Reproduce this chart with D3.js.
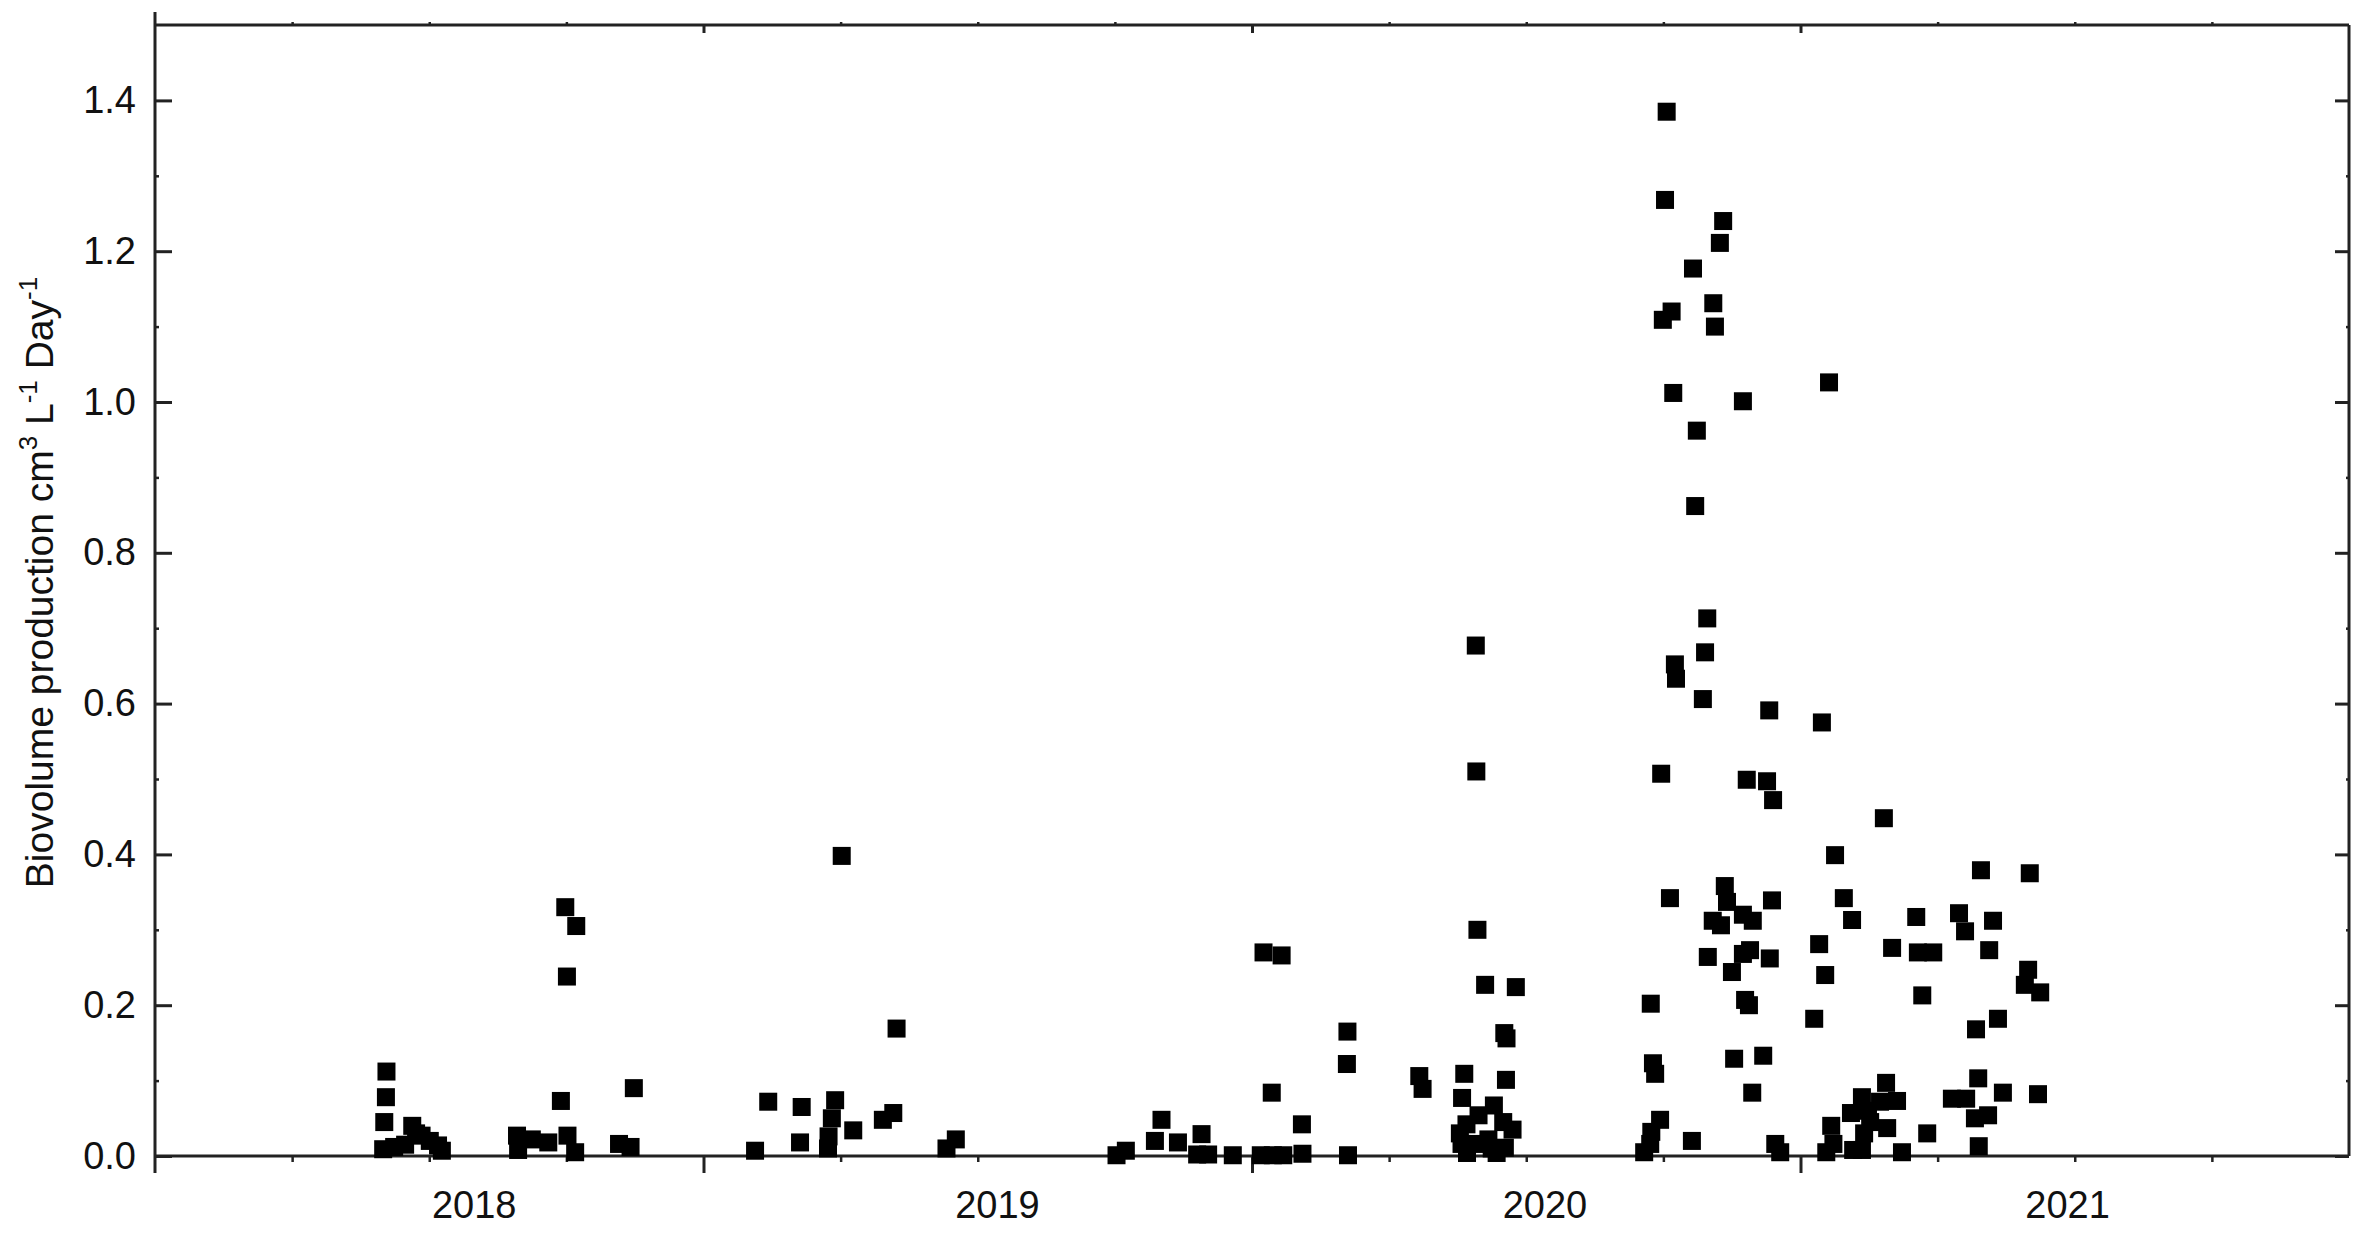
<!DOCTYPE html>
<html>
<head>
<meta charset="utf-8">
<script src="https://d3js.org/d3.v7.min.js"></script>
<style>
  body { margin: 0; background: #fff; }
  text { font-family: "Liberation Sans", Arial, sans-serif; fill: #111; }
</style>
</head>
<body>
<svg id="chart" width="2370" height="1236"></svg>

<script>
  // sampling time as decimal year, and biovolume production (cm3 L-1 Day-1)
  var sampleYear = [
    2018.416, 2018.418, 2018.421, 2018.422, 2018.436, 2018.456, 2018.469, 2018.476, 2018.486, 2018.501, 2018.516, 2018.523,
    2018.660, 2018.662, 2018.687, 2018.717, 2018.740, 2018.748, 2018.751, 2018.752, 2018.766, 2018.768, 2018.846, 2018.867, 2018.873,
    2019.094, 2019.118, 2019.176, 2019.179, 2019.227, 2019.228, 2019.234, 2019.240, 2019.252, 2019.273, 2019.327, 2019.346, 2019.352, 2019.443, 2019.460,
    2019.753, 2019.770, 2019.823, 2019.835, 2019.865, 2019.900, 2019.908, 2019.920, 2019.965,
    2020.016, 2020.021, 2020.036, 2020.038, 2020.054, 2020.057, 2020.091, 2020.092, 2020.173, 2020.174, 2020.175,
    2020.305, 2020.311, 2020.379, 2020.382, 2020.383, 2020.387, 2020.391, 2020.392, 2020.408, 2020.409, 2020.410, 2020.411,
    2020.413, 2020.425, 2020.431, 2020.437, 2020.441, 2020.446, 2020.458, 2020.460, 2020.461, 2020.463, 2020.464, 2020.475, 2020.481,
    2020.715, 2020.726, 2020.727, 2020.728, 2020.731, 2020.735, 2020.744, 2020.746, 2020.749, 2020.753, 2020.756, 2020.762,
    2020.765, 2020.768, 2020.771, 2020.773, 2020.802, 2020.804, 2020.808, 2020.811, 2020.822, 2020.826, 2020.830, 2020.831,
    2020.840, 2020.841, 2020.844, 2020.853, 2020.855, 2020.859, 2020.862, 2020.866, 2020.875, 2020.879, 2020.895, 2020.895,
    2020.895, 2020.899, 2020.902, 2020.906, 2020.908, 2020.912, 2020.913, 2020.932, 2020.939, 2020.943, 2020.944, 2020.948,
    2020.950, 2020.954, 2020.963,
    2021.025, 2021.034, 2021.039, 2021.045, 2021.047, 2021.052, 2021.056, 2021.060, 2021.063, 2021.079, 2021.092, 2021.094,
    2021.096, 2021.112, 2021.112, 2021.116, 2021.123, 2021.127, 2021.145, 2021.152, 2021.156, 2021.158, 2021.167, 2021.176,
    2021.185, 2021.211, 2021.214, 2021.222, 2021.231, 2021.242, 2021.276, 2021.289, 2021.300, 2021.302, 2021.318, 2021.320,
    2021.324, 2021.325, 2021.329, 2021.342, 2021.344, 2021.351, 2021.360, 2021.369, 2021.409, 2021.415, 2021.418, 2021.433, 2021.437
  ];
  var biovolume = [
    0.009, 0.045, 0.078, 0.112, 0.012, 0.015, 0.040, 0.030, 0.027, 0.020, 0.014, 0.007,
    0.027, 0.008, 0.022, 0.018, 0.073, 0.330, 0.238, 0.027, 0.005, 0.305, 0.016, 0.012, 0.090,
    0.007, 0.072, 0.018, 0.065, 0.010, 0.026, 0.050, 0.074, 0.398, 0.034, 0.048, 0.057, 0.169, 0.010, 0.022,
    0.001, 0.007, 0.020, 0.048, 0.018, 0.002, 0.029, 0.002, 0.001,
    0.001, 0.270, 0.084, 0.001, 0.266, 0.001, 0.042, 0.003, 0.122, 0.165, 0.001,
    0.106, 0.089, 0.030, 0.016, 0.077, 0.109, 0.042, 0.004, 0.677, 0.510, 0.016, 0.300,
    0.054, 0.227, 0.022, 0.010, 0.067, 0.004, 0.045, 0.163, 0.011, 0.101, 0.156, 0.035, 0.224,
    0.005, 0.016, 0.202, 0.032, 0.123, 0.109, 0.048, 0.507, 1.109, 1.268, 1.385, 0.342,
    1.120, 1.012, 0.652, 0.633, 0.020, 1.177, 0.862, 0.962, 0.606, 0.668, 0.713, 0.264,
    0.312, 1.131, 1.100, 1.211, 0.306, 1.240, 0.358, 0.337, 0.244, 0.129, 0.320, 0.268,
    1.001, 0.207, 0.499, 0.200, 0.273, 0.084, 0.312, 0.133, 0.497, 0.591, 0.262, 0.339,
    0.472, 0.016, 0.005,
    0.182, 0.281, 0.575, 0.240, 0.005, 1.026, 0.040, 0.016, 0.399, 0.342, 0.057, 0.313,
    0.008, 0.078, 0.008, 0.030, 0.060, 0.045, 0.072, 0.448, 0.097, 0.037, 0.276, 0.073,
    0.005, 0.317, 0.270, 0.213, 0.030, 0.270, 0.076, 0.322, 0.298, 0.076, 0.050, 0.168,
    0.103, 0.013, 0.379, 0.054, 0.273, 0.312, 0.182, 0.084, 0.227, 0.247, 0.375, 0.082, 0.217
  ];

  var yMajor = [0, 0.2, 0.4, 0.6, 0.8, 1.0, 1.2, 1.4];
  var yMinor = [0.1, 0.3, 0.5, 0.7, 0.9, 1.1, 1.3];
  var xMajor = [2019, 2020, 2021];
  var xMinor = [2018.25, 2018.5, 2018.75, 2019.25, 2019.5, 2019.75, 2020.25, 2020.5, 2020.75, 2021.25, 2021.5, 2021.75];
  var yearLabels = ["2018", "2019", "2020", "2021"];
  var yearLabelPos = [2018.582, 2019.536, 2020.534, 2021.487];

  var points = sampleYear.map(function(t, i) { return { t: t, v: biovolume[i] }; });

  var svg = d3.select("#chart"),
      plotLeft = 155, plotRight = 2349, plotTop = 25, plotBottom = 1156;

  var x = d3.scaleLinear().domain([2018, 2022]).range([plotLeft, plotRight]);
  var y = d3.scaleLinear().domain([0, 1.5]).range([plotBottom, plotTop]);

  var axisColor = "#222";

  function styleAxis(g, width) {
    g.selectAll(".domain").remove();
    g.selectAll(".tick line").attr("stroke", axisColor).attr("stroke-width", width);
    g.selectAll(".tick text").attr("font-size", 38).attr("fill", "#111")
      .attr("font-family", "'Liberation Sans', Arial, sans-serif");
  }

  // left axis: ticks point into the plot
  svg.append("g").attr("transform", "translate(" + plotLeft + ",0)")
    .call(d3.axisLeft(y).tickValues(yMajor).tickSizeInner(-17).tickSizeOuter(0)
      .tickPadding(19).tickFormat(d3.format(".1f")))
    .call(function(g) { styleAxis(g, 3); });
  svg.append("g").attr("transform", "translate(" + plotLeft + ",0)")
    .call(d3.axisLeft(y).tickValues(yMinor).tickSize(-4).tickFormat(""))
    .call(function(g) { styleAxis(g, 2.5); });

  // right axis mirrors the left one
  svg.append("g").attr("transform", "translate(" + plotRight + ",0)")
    .call(d3.axisRight(y).tickValues(yMajor).tickSize(-14).tickFormat(""))
    .call(function(g) { styleAxis(g, 3); });
  svg.append("g").attr("transform", "translate(" + plotRight + ",0)")
    .call(d3.axisRight(y).tickValues(yMinor).tickSize(-3).tickFormat(""))
    .call(function(g) { styleAxis(g, 2.5); });

  // bottom axis: ticks point outward
  svg.append("g").attr("transform", "translate(0," + plotBottom + ")")
    .call(d3.axisBottom(x).tickValues(xMajor).tickSize(17).tickFormat(""))
    .call(function(g) { styleAxis(g, 3); });
  svg.append("g").attr("transform", "translate(0," + plotBottom + ")")
    .call(d3.axisBottom(x).tickValues(xMinor).tickSize(6).tickFormat(""))
    .call(function(g) { styleAxis(g, 2.5); });

  // top axis
  svg.append("g").attr("transform", "translate(0," + plotTop + ")")
    .call(d3.axisTop(x).tickValues(xMajor).tickSize(-8).tickFormat(""))
    .call(function(g) { styleAxis(g, 3); });
  svg.append("g").attr("transform", "translate(0," + plotTop + ")")
    .call(d3.axisTop(x).tickValues(xMinor).tickSize(3).tickFormat(""))
    .call(function(g) { styleAxis(g, 2.5); });

  // frame
  var frame = svg.append("g").attr("stroke", axisColor).attr("stroke-width", 3).attr("fill", "none");
  frame.append("line").attr("x1", plotLeft).attr("x2", plotLeft).attr("y1", plotTop - 13).attr("y2", plotBottom + 17);
  frame.append("line").attr("x1", plotLeft).attr("x2", plotRight).attr("y1", plotBottom).attr("y2", plotBottom);
  frame.append("line").attr("x1", plotLeft).attr("x2", plotRight).attr("y1", plotTop).attr("y2", plotTop);
  frame.append("line").attr("x1", plotRight).attr("x2", plotRight).attr("y1", plotTop).attr("y2", plotBottom);

  // year labels under the axis
  svg.append("g").selectAll("text")
    .data(yearLabels)
    .enter().append("text")
      .attr("x", function(d, i) { return x(yearLabelPos[i]); })
      .attr("y", 1218)
      .attr("text-anchor", "middle")
      .attr("font-size", 38)
      .text(function(d) { return d; });

  // y axis title with superscripts
  var title = svg.append("text")
    .attr("transform", "translate(53," + ((plotTop + plotBottom) / 2 - 8) + ") rotate(-90)")
    .attr("text-anchor", "middle")
    .attr("font-size", 39);
  title.append("tspan").text("Biovolume production cm");
  title.append("tspan").attr("font-size", 26).attr("dy", -16).text("3");
  title.append("tspan").attr("dy", 16).text(" L");
  title.append("tspan").attr("font-size", 26).attr("dy", -16).text("-1");
  title.append("tspan").attr("dy", 16).text(" Day");
  title.append("tspan").attr("font-size", 26).attr("dy", -16).text("-1");

  // square markers
  var size = 18;
  svg.append("g").selectAll("rect")
    .data(points)
    .enter().append("rect")
      .attr("x", function(d) { return x(d.t) - size / 2; })
      .attr("y", function(d) { return y(d.v) - size / 2; })
      .attr("width", size)
      .attr("height", size)
      .attr("fill", "#000");
</script>
</body>
</html>
